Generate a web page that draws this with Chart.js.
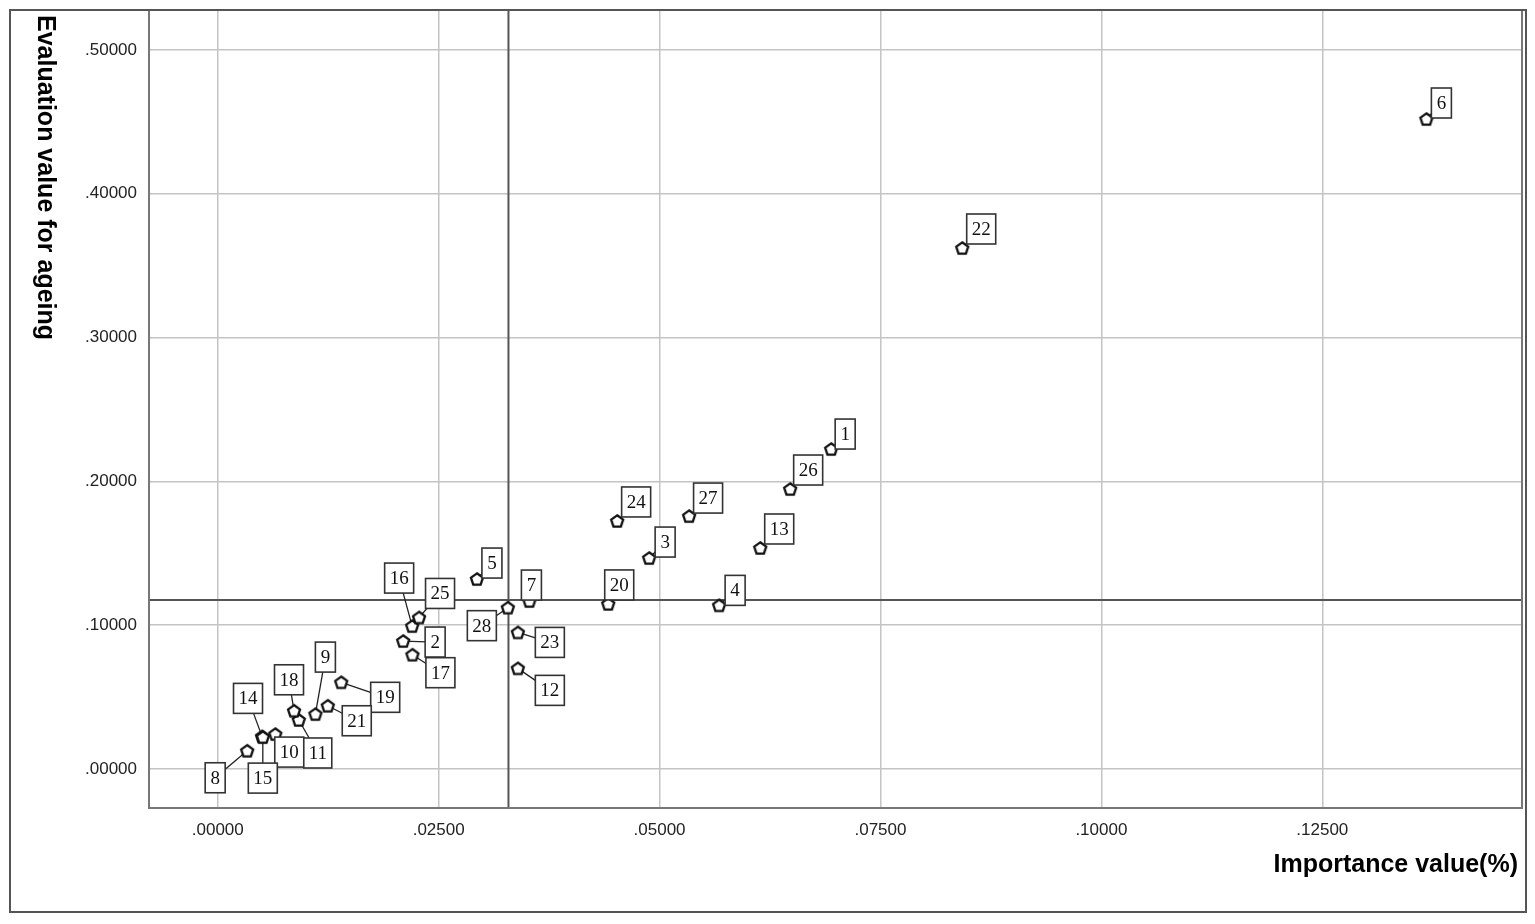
<!DOCTYPE html>
<html lang="en">
<head>
    <meta charset="UTF-8">
    <title>Importance value vs evaluation value for ageing</title>
    <script src="https://cdn.jsdelivr.net/npm/chart.js"></script>
    <style>
        body { margin: 0; padding: 0; background: #fff; }
        canvas { display: block; }
    </style>
</head>
<body>
    <canvas id="scatterChart" width="1535" height="924"></canvas>

    <script>
        // item numbers and their values
        const itemIds = [1, 2, 3, 4, 5, 6, 7, 8, 9, 10, 11, 12, 13, 14,
                         15, 16, 17, 18, 19, 20, 21, 22, 23, 24, 25, 26, 27, 28];
        const importanceValues = [0.06942, 0.02098, 0.04882, 0.05674, 0.02933, 0.13678, 0.03527,
                                  0.00333, 0.01105, 0.00651, 0.00917, 0.03396, 0.06139, 0.00501,
                                  0.00510, 0.02200, 0.02203, 0.00863, 0.01397, 0.04419, 0.01245,
                                  0.08425, 0.03396, 0.04520, 0.02278, 0.06478, 0.05334, 0.03283];
        const ageingValues = [0.2225, 0.0890, 0.1467, 0.1138, 0.1321, 0.4520, 0.1168,
                              0.0127, 0.0382, 0.0243, 0.0341, 0.0700, 0.1537, 0.0227,
                              0.0222, 0.0994, 0.0795, 0.0405, 0.0603, 0.1148, 0.0440,
                              0.3623, 0.0950, 0.1725, 0.1054, 0.1947, 0.1759, 0.1122];

        // reference (mean) lines
        const meanImportance = 0.0329;
        const meanAgeing = 0.1175;

        // tick labels
        const xTicks = [0, 0.025, 0.05, 0.075, 0.1, 0.125];
        const yTicks = [0, 0.1, 0.2, 0.3, 0.4, 0.5];

        // where each label box sits relative to its point (px)
        const labelDx = [14, 32, 16, 16, 15, 15, 2, -32, 10, 14, 19, 32, 19, -14,
                         0, -13, 28, -5, 44, 11, 29, 19, 32, 19, 21, 18, 19, -26];
        const labelDy = [-15, 1, -16, -15, -16, -16, -16, 27, -57, 18, 33, 22, -19, -38,
                         41, -48, 18, -31, 15, -19, 15, -19, 10, -19, -24, -19, -18, 18];

        // pentagon marker
        function makePentagon() {
            const c = document.createElement('canvas');
            c.width = 20; c.height = 20;
            const g = c.getContext('2d');
            g.beginPath();
            for (let i = 0; i < 5; i++) {
                const a = -Math.PI / 2 + i * 2 * Math.PI / 5;
                const px = 10 + 6.3 * Math.cos(a);
                const py = 10.6 + 6.3 * Math.sin(a);
                if (i === 0) g.moveTo(px, py); else g.lineTo(px, py);
            }
            g.closePath();
            g.fillStyle = '#fff';
            g.fill();
            g.lineWidth = 2.3;
            g.strokeStyle = '#111';
            g.stroke();
            return c;
        }

        const points = itemIds.map((id, i) => ({ x: importanceValues[i], y: ageingValues[i] }));

        const fmt = v => v.toFixed(5).replace(/^0/, '');

        const labelPlugin = {
            id: 'labels',
            beforeDatasetsDraw(chart) {
                const ctx = chart.ctx;
                const xs = chart.scales.x, ys = chart.scales.y;
                const area = chart.chartArea;
                ctx.save();
                // mean lines
                ctx.strokeStyle = '#555';
                ctx.lineWidth = 2;
                const rx = xs.getPixelForValue(meanImportance);
                const ry = ys.getPixelForValue(meanAgeing);
                ctx.beginPath();
                ctx.moveTo(rx, area.top); ctx.lineTo(rx, area.bottom);
                ctx.moveTo(area.left, ry); ctx.lineTo(area.right, ry);
                ctx.stroke();
                // leader lines
                ctx.strokeStyle = '#222';
                ctx.lineWidth = 1.3;
                const meta = chart.getDatasetMeta(0);
                meta.data.forEach((el, i) => {
                    ctx.beginPath();
                    ctx.moveTo(el.x, el.y);
                    ctx.lineTo(el.x + labelDx[i], el.y + labelDy[i]);
                    ctx.stroke();
                });
                ctx.restore();
            },
            afterDatasetsDraw(chart) {
                const ctx = chart.ctx;
                const meta = chart.getDatasetMeta(0);
                ctx.save();
                ctx.font = '19px "Liberation Serif", serif';
                ctx.textAlign = 'center';
                ctx.textBaseline = 'middle';
                meta.data.forEach((el, i) => {
                    const txt = String(itemIds[i]);
                    const w = Math.round(ctx.measureText(txt).width) + 10;
                    const h = 30;
                    const cx = el.x + labelDx[i], cy = el.y + labelDy[i];
                    ctx.fillStyle = '#fff';
                    ctx.fillRect(cx - w / 2, cy - h / 2, w, h);
                    ctx.strokeStyle = '#333';
                    ctx.lineWidth = 1.6;
                    ctx.strokeRect(cx - w / 2, cy - h / 2, w, h);
                    ctx.fillStyle = '#111';
                    ctx.fillText(txt, cx, cy + 1);
                });
                ctx.restore();
            },
            afterDraw(chart) {
                const ctx = chart.ctx;
                const area = chart.chartArea;
                ctx.save();
                // plot border
                ctx.strokeStyle = '#777';
                ctx.lineWidth = 2;
                ctx.strokeRect(area.left, area.top, area.right - area.left, area.bottom - area.top);
                // outer frame
                ctx.strokeStyle = '#555';
                ctx.strokeRect(10, 10, 1516, 902);
                // axis titles
                ctx.fillStyle = '#000';
                ctx.font = 'bold 25px "Liberation Sans", Arial, sans-serif';
                ctx.textAlign = 'right';
                ctx.textBaseline = 'middle';
                ctx.fillText('Importance value(%)', 1518, 865);
                ctx.translate(45, 15);
                ctx.rotate(Math.PI / 2);
                ctx.textAlign = 'left';
                ctx.fillText('Evaluation value for ageing', 0, 0);
                ctx.restore();
            }
        };

        const tickFont = { family: '"Liberation Sans", Arial, sans-serif', size: 17 };

        new Chart(document.getElementById('scatterChart'), {
            type: 'scatter',
            data: {
                datasets: [{
                    data: points,
                    pointStyle: makePentagon(),
                    pointRadius: 7,
                    pointHoverRadius: 7
                }]
            },
            options: {
                responsive: false,
                animation: false,
                layout: { padding: { left: 0, top: 10, right: 13, bottom: 0 } },
                plugins: { legend: { display: false }, tooltip: { enabled: false } },
                scales: {
                    x: {
                        type: 'linear',
                        min: -0.00778,
                        max: 0.1476,
                        afterBuildTicks: s => { s.ticks = xTicks.map(v => ({ value: v })); },
                        afterFit: s => { s.height = 116; s.paddingLeft = 0; s.paddingRight = 0; },
                        grid: { color: '#c4c4c4', lineWidth: 1.5, drawTicks: false },
                        border: { color: '#777', width: 2 },
                        ticks: { callback: v => fmt(v), color: '#222', font: tickFont, padding: 12, maxRotation: 0 }
                    },
                    y: {
                        type: 'linear',
                        min: -0.0271,
                        max: 0.5278,
                        afterBuildTicks: s => { s.ticks = yTicks.map(v => ({ value: v })); },
                        afterFit: s => { s.width = 149; s.paddingTop = 0; s.paddingBottom = 0; },
                        grid: { color: '#c4c4c4', lineWidth: 1.5, drawTicks: false },
                        border: { color: '#777', width: 2 },
                        ticks: { callback: v => fmt(v), color: '#222', font: tickFont, padding: 12 }
                    }
                }
            },
            plugins: [labelPlugin]
        });
    </script>
</body>
</html>
